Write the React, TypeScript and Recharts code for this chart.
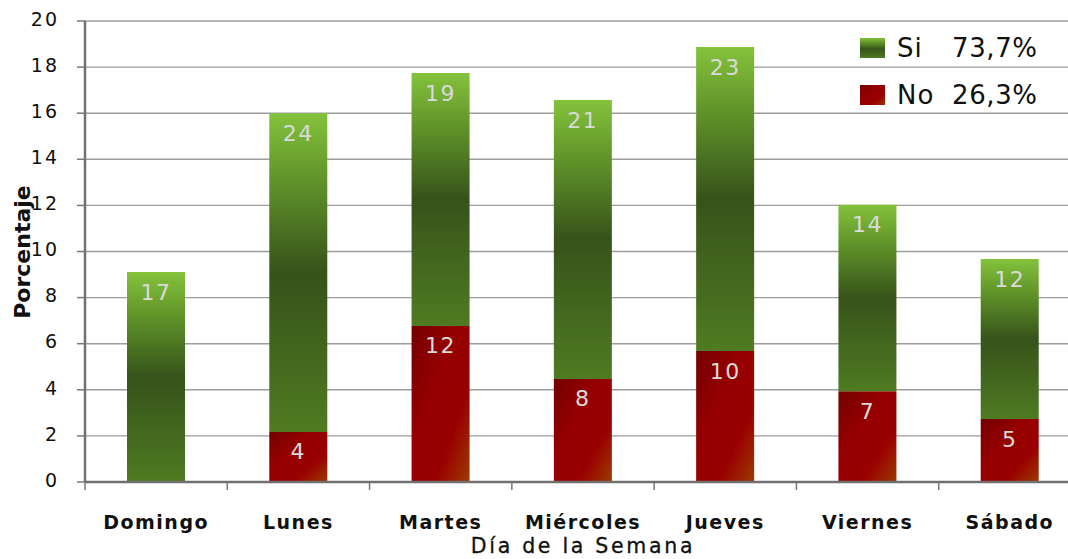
import React from 'react';
import { BarChart, Bar, XAxis, YAxis, CartesianGrid, Legend, LabelList } from 'recharts';

// Percent of all answers per day, split into Si / No
const days = ['Domingo', 'Lunes', 'Martes', 'Miércoles', 'Jueves', 'Viernes', 'Sábado'];
const noPct = [0, 2.17, 6.77, 4.47, 5.68, 3.94, 2.73];
const siPct = [9.11, 13.83, 10.97, 12.1, 13.19, 8.09, 6.94];

// Number of answers written on each segment
const siCount = [17, 24, 19, 21, 23, 14, 12];
const noCount = [null, 4, 12, 8, 10, 7, 5];

const yTicks = [0, 2, 4, 6, 8, 10, 12, 14, 16, 18, 20];

const legendItems = [
  { key: 'si', name: 'Si', share: '73,7%' },
  { key: 'no', name: 'No', share: '26,3%' },
];

const data = days.map((day, i) => ({
  day,
  no: noPct[i],
  si: siPct[i],
  noN: noCount[i],
  siN: siCount[i],
}));

const CHART_W = 1085;
const CHART_H = 559;
const Y_AXIS_W = 85;
const MARGIN = { top: 21, right: 4, bottom: 1, left: 0 };
const PLOT_W = CHART_W - MARGIN.left - MARGIN.right - Y_AXIS_W;
const STEP = PLOT_W / days.length;

const FONT = '"DejaVu Sans", Verdana, sans-serif';

const swatch: Record<string, string> = {
  si: 'linear-gradient(to bottom, #84c23c 0%, #5e9028 25%, #37541a 55%, #4f7b22 100%)',
  no: 'linear-gradient(to bottom right, #780000 0%, #960000 45%, #990000 70%, #9a3a00 100%)',
};

const DayTick = (props: any) => {
  const { x, y, payload, index } = props;
  const left = x - STEP / 2;
  return (
    <g>
      <line x1={left} y1={y} x2={left} y2={y + 8} stroke="#777" strokeWidth={1.5} />
      {index === days.length - 1 && (
        <line x1={x + STEP / 2} y1={y} x2={x + STEP / 2} y2={y + 8} stroke="#777" strokeWidth={1.5} />
      )}
      <text
        x={x}
        y={y + 40}
        textAnchor="middle"
        dominantBaseline="central"
        fontFamily={FONT}
        fontSize={19}
        fontWeight="bold"
        letterSpacing={1.5}
        fill="#111"
      >
        {payload.value}
      </text>
    </g>
  );
};

const SegmentLabel = (props: any) => {
  const { x, y, width, value } = props;
  if (value == null) return null;
  return (
    <text
      x={x + width / 2}
      y={y + 20}
      textAnchor="middle"
      dominantBaseline="central"
      fontFamily={FONT}
      fontSize={22}
      letterSpacing={1.5}
      fill="#dadada"
    >
      {value}
    </text>
  );
};

const ShareLegend = () => (
  <div style={{ fontFamily: FONT, color: '#111' }}>
    {legendItems.map((item) => (
      <div key={item.key} style={{ display: 'flex', alignItems: 'center', height: 47 }}>
        <span style={{ display: 'inline-block', width: 25, height: 20, background: swatch[item.key] }} />
        <span style={{ display: 'inline-block', width: 55, marginLeft: 12, fontSize: 26, letterSpacing: 1 }}>
          {item.name}
        </span>
        <span style={{ fontSize: 26, letterSpacing: 0.6 }}>{item.share}</span>
      </div>
    ))}
  </div>
);

export default function App() {
  return (
    <div
      style={{
        position: 'absolute',
        left: 0,
        top: 0,
        width: 1068,
        height: 559,
        overflow: 'hidden',
        background: '#fff',
        fontFamily: FONT,
      }}
    >
      <BarChart width={CHART_W} height={CHART_H} data={data} margin={MARGIN} barSize={58}>
        <defs>
          <linearGradient id="gradSi" x1="0" y1="0" x2="0" y2="1">
            <stop offset="0%" stopColor="#84c23c" />
            <stop offset="20%" stopColor="#62962a" />
            <stop offset="50%" stopColor="#36531a" />
            <stop offset="100%" stopColor="#4f7b22" />
          </linearGradient>
          <linearGradient id="gradNo" x1="0" y1="0" x2="1" y2="1">
            <stop offset="0%" stopColor="#740000" />
            <stop offset="38%" stopColor="#950000" />
            <stop offset="70%" stopColor="#990000" />
            <stop offset="100%" stopColor="#9c3c00" />
          </linearGradient>
        </defs>
        <CartesianGrid vertical={false} stroke="#9c9c9c" strokeWidth={1.4} />
        <XAxis
          dataKey="day"
          height={76}
          axisLine={{ stroke: '#707070', strokeWidth: 2.5 }}
          tickLine={false}
          tickSize={0}
          tickMargin={0}
          interval={0}
          tick={<DayTick />}
          label={() => (
            <text
              x={MARGIN.left + Y_AXIS_W + PLOT_W / 2}
              y={546}
              textAnchor="middle"
              dominantBaseline="central"
              fontFamily={FONT}
              fontSize={20.5}
              letterSpacing={2.7}
              stroke="#111"
              strokeWidth={0.3}
              fill="#111"
            >
              Día de la Semana
            </text>
          )}
        />
        <YAxis
          width={Y_AXIS_W}
          domain={[0, 20]}
          ticks={yTicks}
          interval={0}
          axisLine={{ stroke: '#707070', strokeWidth: 2.5 }}
          tickLine={{ stroke: '#777', strokeWidth: 1.5 }}
          tickSize={8}
          tickMargin={18}
          tick={{ fontFamily: FONT, fontSize: 19, fill: '#111', letterSpacing: 2, dy: -2 }}
          label={() => (
            <text
              x={22}
              y={252}
              transform="rotate(-90 22 252)"
              textAnchor="middle"
              dominantBaseline="central"
              fontFamily={FONT}
              fontSize={22}
              fontWeight="bold"
              fill="#111"
            >
              Porcentaje
            </text>
          )}
        />
        <Legend
          layout="vertical"
          align="center"
          verticalAlign="middle"
          content={<ShareLegend />}
          wrapperStyle={{ top: 24, left: 860, width: 200, bottom: 'auto', right: 'auto' }}
        />
        <Bar dataKey="no" stackId="day" fill="url(#gradNo)" isAnimationActive={false}>
          <LabelList dataKey="noN" content={<SegmentLabel />} />
        </Bar>
        <Bar dataKey="si" stackId="day" fill="url(#gradSi)" isAnimationActive={false}>
          <LabelList dataKey="siN" content={<SegmentLabel />} />
        </Bar>
      </BarChart>
    </div>
  );
}
